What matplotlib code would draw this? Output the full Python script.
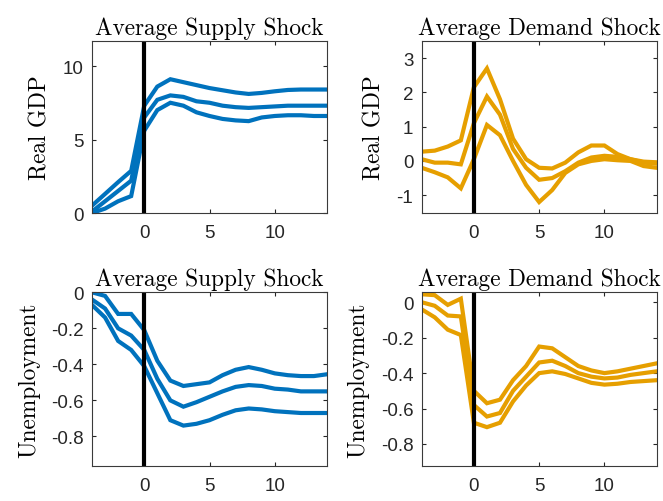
import matplotlib
matplotlib.use("Agg")
import matplotlib.pyplot as plt
import numpy as np

plt.rcParams['axes.unicode_minus'] = False

horizon = np.arange(-4, 15)

# real GDP, supply shock (upper band, median, lower band)
sup_gdp_hi = [0.5, 1.3, 2.1, 2.87, 7.3, 8.6, 9.1, 8.9, 8.7, 8.5, 8.35, 8.2, 8.1, 8.17, 8.28, 8.37, 8.4, 8.4, 8.4]
sup_gdp_md = [0.1, 0.8, 1.5, 2.2, 6.5, 7.7, 8.0, 7.9, 7.6, 7.5, 7.3, 7.2, 7.15, 7.2, 7.25, 7.3, 7.3, 7.3, 7.3]
sup_gdp_lo = [0.0, 0.3, 0.8, 1.15, 5.6, 7.0, 7.5, 7.3, 6.85, 6.6, 6.4, 6.3, 6.25, 6.5, 6.6, 6.65, 6.65, 6.6, 6.6]

# real GDP, demand shock
dem_gdp_hi = [0.27, 0.3, 0.42, 0.6, 2.15, 2.7, 1.8, 0.65, 0.05, -0.2, -0.22, -0.05, 0.25, 0.45, 0.45, 0.2, 0.05, -0.02, -0.04]
dem_gdp_md = [0.05, -0.05, -0.05, -0.1, 1.1, 1.88, 1.35, 0.35, -0.2, -0.55, -0.5, -0.3, -0.05, 0.1, 0.15, 0.12, 0.05, -0.05, -0.08]
dem_gdp_lo = [-0.2, -0.33, -0.48, -0.8, 0.05, 1.05, 0.75, 0.0, -0.7, -1.2, -0.85, -0.35, -0.1, 0.0, 0.05, 0.02, 0.0, -0.15, -0.2]

# unemployment, supply shock
sup_un_hi = [0.0, -0.02, -0.12, -0.12, -0.21, -0.38, -0.49, -0.52, -0.51, -0.5, -0.46, -0.43, -0.415, -0.43, -0.45, -0.46, -0.465, -0.465, -0.455]
sup_un_md = [-0.04, -0.09, -0.2, -0.24, -0.32, -0.48, -0.6, -0.635, -0.61, -0.58, -0.55, -0.525, -0.515, -0.52, -0.535, -0.54, -0.55, -0.55, -0.55]
sup_un_lo = [-0.07, -0.14, -0.27, -0.32, -0.41, -0.56, -0.71, -0.74, -0.73, -0.71, -0.68, -0.655, -0.645, -0.65, -0.66, -0.665, -0.67, -0.67, -0.67]

# unemployment, demand shock
dem_un_hi = [0.045, 0.04, -0.015, 0.02, -0.5, -0.57, -0.55, -0.44, -0.36, -0.25, -0.26, -0.31, -0.36, -0.385, -0.4, -0.39, -0.375, -0.36, -0.345]
dem_un_md = [0.0, -0.02, -0.075, -0.08, -0.58, -0.645, -0.625, -0.5, -0.42, -0.34, -0.33, -0.36, -0.4, -0.42, -0.43, -0.425, -0.41, -0.4, -0.39]
dem_un_lo = [-0.04, -0.085, -0.155, -0.185, -0.68, -0.705, -0.68, -0.56, -0.47, -0.4, -0.39, -0.405, -0.43, -0.455, -0.465, -0.46, -0.45, -0.445, -0.44]

blue = "#0072BD"
orange = "#E69F00"

panels = [
    ("Average Supply Shock", "Real GDP", (sup_gdp_hi, sup_gdp_md, sup_gdp_lo), blue, (0, 11.7), [0, 5, 10]),
    ("Average Demand Shock", "Real GDP", (dem_gdp_hi, dem_gdp_md, dem_gdp_lo), orange, (-1.52, 3.5), [-1, 0, 1, 2, 3]),
    ("Average Supply Shock", "Unemployment", (sup_un_hi, sup_un_md, sup_un_lo), blue, (-0.966, 0.0), [-0.8, -0.6, -0.4, -0.2, 0]),
    ("Average Demand Shock", "Unemployment", (dem_un_hi, dem_un_md, dem_un_lo), orange, (-0.926, 0.056), [-0.8, -0.6, -0.4, -0.2, 0]),
]

# axes rectangles in figure fractions (left, bottom, width, height)
rects = [
    (0.1388, 0.5737, 0.3544, 0.3426),
    (0.6360, 0.5737, 0.3544, 0.3426),
    (0.1388, 0.0691, 0.3544, 0.3466),
    (0.6360, 0.0691, 0.3544, 0.3466),
]

fig = plt.figure(figsize=(6.63, 5.02), dpi=100)

for (title, ylab, lines, col, ylim, yt), rect in zip(panels, rects):
    ax = fig.add_axes(rect)
    for ln in lines:
        ax.plot(horizon, ln, color=col, lw=3.0, solid_joinstyle='miter')
    ax.axvline(0, color='black', lw=3.0)
    ax.set_xlim(-4, 14)
    ax.set_ylim(*ylim)
    ax.set_xticks([0, 5, 10])
    ax.set_yticks(yt)
    ax.set_yticklabels([f"{v:g}" for v in yt])
    ax.tick_params(direction='in', length=3, width=0.8, color='#262626',
                   top=True, right=True, labelsize=13.5, labelcolor='#262626')
    ax.tick_params(axis='x', pad=8)
    ax.tick_params(axis='y', pad=6)
    for lab in ax.get_xticklabels() + ax.get_yticklabels():
        lab.set_family('Liberation Sans')
    for sp in ax.spines.values():
        sp.set_color('#3a3a3a')
        sp.set_linewidth(0.8)
    ax.set_title(title, family='cmr10', fontsize=16.8, pad=5)
    ax.set_ylabel(ylab, family='cmr10', fontsize=16.8, labelpad=8)

fig.savefig("out.png", dpi=100)
